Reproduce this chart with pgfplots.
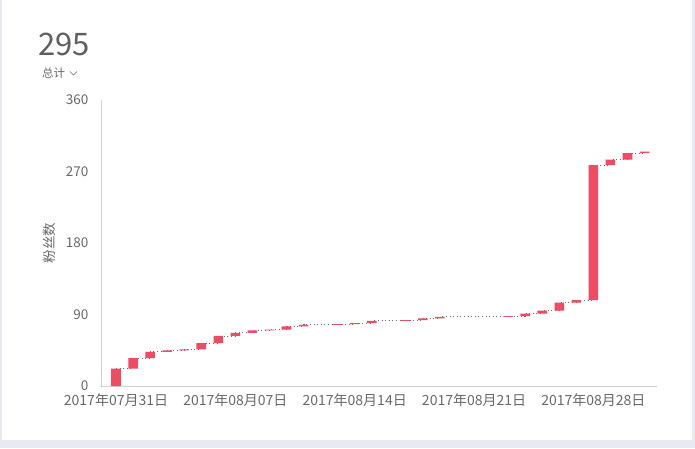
\documentclass[border=0pt]{standalone}
\usepackage{fontspec}
\setmainfont{Noto Sans CJK SC}
\usepackage{pgfplots}
\usepackage{pgfplotstable}
\pgfplotsset{compat=1.18}
\definecolor{barred}{RGB}{239,75,99}
\definecolor{txt}{RGB}{105,105,105}
\definecolor{bigtxt}{RGB}{95,95,95}
\definecolor{axisgray}{RGB}{210,210,210}
\definecolor{dotc}{RGB}{110,110,110}
\definecolor{bgc}{RGB}{232,234,242}

\pgfplotstableread{
idx base delta cum
0 0 22 22
1 22 13 35
2 35 8 43
3 43 2 45
4 45 1 46
5 46 8 54
6 54 9 63
7 63 4 67
8 67 3 70
9 70 1 71
10 71 4 75
11 75 2 77
12 77 0 77
13 77 1 78
14 78 1 79
15 79 3 82
16 82 0 82
17 82 1 83
18 83 2 85
19 85 2 87
20 87 0 87
21 87 0 87
22 87 0 87
23 87 1 88
24 88 3 91
25 91 4 95
26 95 10 105
27 105 3 108
28 108 170 278
29 278 7 285
30 285 8 293
31 293 2 295
}\data

\begin{document}
\begin{tikzpicture}[x=1pt,y=1pt]
\fill[bgc] (0,0) rectangle (695,448);
\fill[white] (2,8) rectangle (692,448);
\path[use as bounding box] (0,0) rectangle (695,448);

\node[anchor=base west, inner sep=0, text=bigtxt, font=\fontsize{31}{31}\selectfont] at (38,392) {295};
\node[anchor=base west, inner sep=0, text=txt, font=\fontsize{11.5}{11.5}\selectfont] at (42,370.5) {总计};
\draw[txt, line width=0.6pt] (70,376.5) -- (73.5,373) -- (77,376.5);
\node[rotate=90, inner sep=0, text=txt, font=\fontsize{13.5}{13.5}\selectfont] at (49,205) {粉丝数};

\begin{axis}[
  at={(101pt,62pt)}, anchor=south west, scale only axis,
  width=556pt, height=286pt,
  xmin=-0.88, xmax=31.73, ymin=0, ymax=360,
  axis x line*=bottom, axis y line*=left,
  axis line style={draw=axisgray, line width=0.8pt},
  xtick={0,7,14,21,28},
  xticklabels={2017年07月31日,2017年08月07日,2017年08月14日,2017年08月21日,2017年08月28日},
  ytick={0,90,180,270,360},
  major tick length=0pt,
  tick style={draw=none},
  /pgf/number format/assume math mode=true,
  ticklabel style={text=txt},
  yticklabel style={xshift=-9pt, font=\fontsize{13.5}{13.5}\selectfont},
  xticklabel style={yshift=-4pt, font=\fontsize{14}{14}\selectfont},
]
\addplot[const plot, draw=dotc, dash pattern=on 1pt off 2.6pt, line width=0.8pt] table[x=idx,y=cum] {\data};
\end{axis}

\begin{axis}[
  at={(101pt,62pt)}, anchor=south west, scale only axis,
  width=556pt, height=286pt,
  xmin=-0.88, xmax=31.73, ymin=0, ymax=360,
  hide axis, ybar stacked, bar width=0.56,
]
\addplot[draw=none, fill=none] table[x=idx,y=base] {\data};
\addplot[draw=none, fill=barred] table[x=idx,y=delta] {\data};
\end{axis}
\end{tikzpicture}
\end{document}
